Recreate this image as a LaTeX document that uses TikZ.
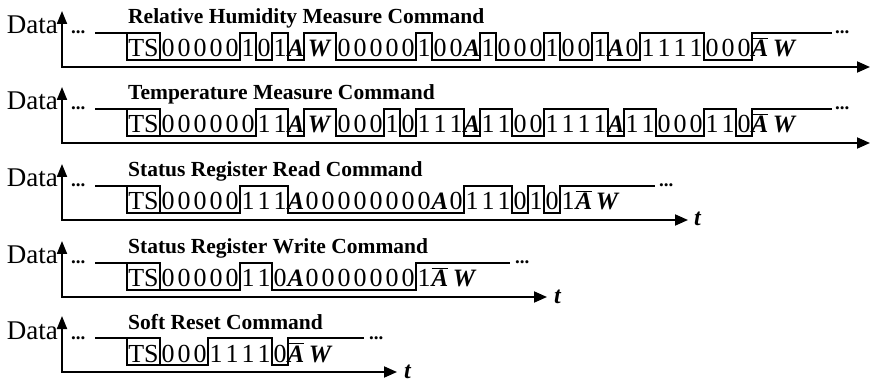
\documentclass[tikz,border=0pt]{standalone}
\usepackage{fontspec}
\setmainfont{Liberation Serif}
\usetikzlibrary{arrows.meta}
\newcommand\abar{\leavevmode\vbox{\hrule height 1.3pt\kern 1.6pt\hbox{A}}}
\newcommand\bitrow[3]{\foreach \b [count=\i] in {#3} \node[bit] (#1\i) at ({#2+16*\i-8},-10) {\b};}
\newcommand\rowframe[3]{%
  \node[datalbl] (#1data) at (58,-33) {Data};
  \node[titlelbl] (#1title) at (128,-43) {#2};
  \node[dotslbl] (#1dl) at (71,-33) {...};
  \coordinate (#1o) at (62,0);
  \coordinate (#1top) at (62,-56);
  \coordinate (#1end) at (#3,0);
  \draw[axisline] (#1top) -- (#1o) -- (#1end);
  \draw[wave] (95,-34) -- (127,-34);
  \draw[wave] (127,-34) rectangle (160,-7);
  \node[bit] (#1ts) at (143.5,-10) {TS};
}
\begin{document}
\begin{tikzpicture}[x=1pt,y=-1pt,
  bit/.style={anchor=base, inner sep=0pt, font=\fontsize{26}{26}\selectfont},
  ack/.style={anchor=base, inner sep=0pt, font=\fontsize{25}{25}\selectfont\bfseries\itshape},
  titlelbl/.style={anchor=base west, inner sep=0pt, font=\fontsize{21.5}{21.5}\selectfont\bfseries},
  datalbl/.style={anchor=base east, inner sep=0pt, font=\fontsize{27}{27}\selectfont},
  dotslbl/.style={anchor=base west, inner sep=0pt, font=\fontsize{19}{19}\selectfont\bfseries},
  tlbl/.style={anchor=base west, inner sep=0pt, font=\fontsize{24}{24}\selectfont\bfseries\itshape},
  wave/.style={line width=1.4pt},
  axisline/.style={line width=1.9pt, {Triangle[length=13pt,width=10pt]}-{Triangle[length=13pt,width=11pt]}}
]
\useasboundingbox (0,0) rectangle (873,382);

% Row 1
\begin{scope}[shift={(0,67)}]
  \rowframe{r1}{Relative Humidity Measure Command}{870}
  \draw[wave] (160,-7) -| (240,-34) -| (256,-7) -| (272,-34) -| (288,-7) -| (304,-34) -| (336,-7) -| (416,-34) -| (432,-7) -| (480,-34) -| (496,-7) -| (544,-34) -| (560,-7) -| (592,-34) -| (608,-7) -| (640,-34) -| (704,-7) -| (752,-34) -- (832,-34);
  \bitrow{r1c}{160}{0,0,0,0,0,1,0,1}
  \node[ack] (r1a1) at (296,-10) {A};
  \node[ack] (r1w1) at (319,-10) {W};
  \bitrow{r1d}{336}{0,0,0,0,0,1,0,0}
  \node[ack] (r1a2) at (472,-10) {A};
  \bitrow{r1e}{480}{1,0,0,0,1,0,0,1}
  \node[ack] (r1a3) at (616,-10) {A};
  \bitrow{r1f}{624}{0,1,1,1,1,0,0,0}
  \node[ack] (r1na) at (760,-10) {\abar};
  \node[ack] (r1w2) at (784,-10) {W};
  \node[dotslbl] (r1dr) at (835,-33) {...};
\end{scope}

% Row 2
\begin{scope}[shift={(0,143)}]
  \rowframe{r2}{Temperature Measure Command}{870}
  \draw[wave] (160,-7) -| (256,-34) -| (288,-7) -| (304,-34) -| (336,-7) -| (384,-34) -| (400,-7) -| (416,-34) -| (464,-7) -| (480,-34) -| (512,-7) -| (544,-34) -| (608,-7) -| (624,-34) -| (656,-7) -| (704,-34) -| (736,-7) -| (752,-34) -- (832,-34);
  \bitrow{r2c}{160}{0,0,0,0,0,0,1,1}
  \node[ack] (r2a1) at (296,-10) {A};
  \node[ack] (r2w1) at (319,-10) {W};
  \bitrow{r2d}{336}{0,0,0,1,0,1,1,1}
  \node[ack] (r2a2) at (472,-10) {A};
  \bitrow{r2e}{480}{1,1,0,0,1,1,1,1}
  \node[ack] (r2a3) at (616,-10) {A};
  \bitrow{r2f}{624}{1,1,0,0,0,1,1,0}
  \node[ack] (r2na) at (760,-10) {\abar};
  \node[ack] (r2w2) at (784,-10) {W};
  \node[dotslbl] (r2dr) at (835,-33) {...};
\end{scope}

% Row 3
\begin{scope}[shift={(0,220)}]
  \rowframe{r3}{Status Register Read Command}{688}
  \draw[wave] (160,-7) -| (240,-34) -| (288,-7) -| (464,-34) -| (512,-7) -| (528,-34) -| (544,-7) -| (560,-34) -- (655,-34);
  \bitrow{r3c}{160}{0,0,0,0,0,1,1,1}
  \node[ack] (r3a1) at (296,-10) {A};
  \bitrow{r3d}{304}{0,0,0,0,0,0,0,0}
  \node[ack] (r3a2) at (440,-10) {A};
  \bitrow{r3e}{448}{0,1,1,1,0,1,0,1}
  \node[ack] (r3na) at (584,-10) {\abar};
  \node[ack] (r3w) at (607,-10) {W};
  \node[dotslbl] (r3dr) at (659,-33) {...};
  \node[tlbl] (r3t) at (694,6) {t};
\end{scope}

% Row 4
\begin{scope}[shift={(0,297)}]
  \rowframe{r4}{Status Register Write Command}{547}
  \draw[wave] (160,-7) -| (240,-34) -| (272,-7) -| (416,-34) -- (510,-34);
  \bitrow{r4c}{160}{0,0,0,0,0,1,1,0}
  \node[ack] (r4a1) at (296,-10) {A};
  \bitrow{r4d}{304}{0,0,0,0,0,0,0,1}
  \node[ack] (r4na) at (440,-10) {\abar};
  \node[ack] (r4w) at (464,-10) {W};
  \node[dotslbl] (r4dr) at (515,-33) {...};
  \node[tlbl] (r4t) at (554,6) {t};
\end{scope}

% Row 5
\begin{scope}[shift={(0,372)}]
  \rowframe{r5}{Soft Reset Command}{397}
  \draw[wave] (160,-7) -| (208,-34) -| (272,-7) -| (288,-34) -- (364,-34);
  \bitrow{r5c}{160}{0,0,0,1,1,1,1,0}
  \node[ack] (r5na) at (296,-10) {\abar};
  \node[ack] (r5w) at (320,-10) {W};
  \node[dotslbl] (r5dr) at (369,-33) {...};
  \node[tlbl] (r5t) at (404,6) {t};
\end{scope}
\end{tikzpicture}
\end{document}
